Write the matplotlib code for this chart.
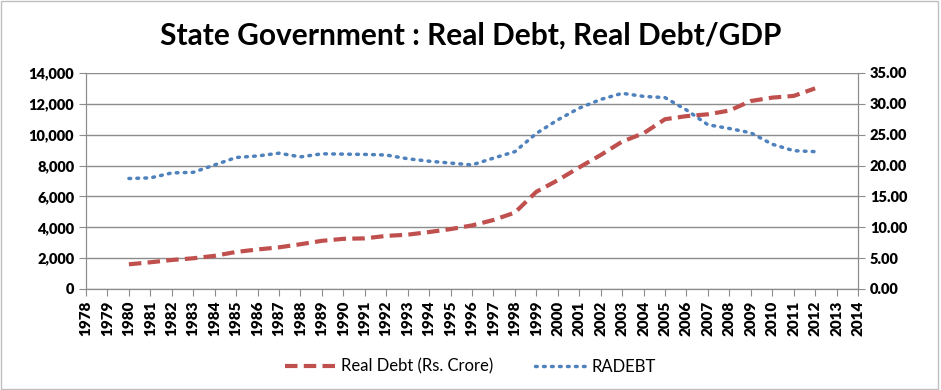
import numpy as np
import matplotlib
matplotlib.use("Agg")
import matplotlib.pyplot as plt
from matplotlib.patches import Rectangle

# datos
years = list(range(1978, 2015))
data_years = list(range(1980, 2013))
real_debt = [1600, 1730, 1880, 1990, 2150, 2400, 2560, 2700, 2900, 3120,
             3250, 3280, 3440, 3520, 3690, 3880, 4120, 4470, 4950, 6300,
             7050, 7880, 8680, 9550, 10090, 11000, 11200, 11320, 11560, 12180,
             12400, 12510, 13000]
radebt = [17.9, 18.0, 18.8, 18.9, 20.1, 21.3, 21.55, 22.0, 21.4, 21.9,
          21.85, 21.8, 21.7, 21.1, 20.7, 20.4, 20.1, 21.2, 22.25, 25.2,
          27.4, 29.3, 30.7, 31.7, 31.2, 31.0, 29.0, 26.6, 26.0, 25.3,
          23.45, 22.4, 22.25]

plt.rcParams['font.family'] = ['Lato', 'DejaVu Sans']

fig = plt.figure(figsize=(9.41, 3.90), dpi=100)
ax = fig.add_axes([0.0914, 0.259, 0.8204, 0.554])
ax2 = ax.twinx()

x_all = np.arange(len(years))
x_data = np.array([years.index(y) for y in data_years])

l1, = ax.plot(x_data, real_debt, color='#C0504D', lw=3, ls=(0, (3.0, 1.5)),
              label='Real Debt (Rs. Crore)')
l2, = ax2.plot(x_data, radebt, color='#4F81BD', lw=2.5, ls=(0, (0.5, 1.8)),
               dash_capstyle='round', label='RADEBT')

ax.set_xlim(0, len(years) - 1)
ax.set_ylim(0, 14000)
ax2.set_ylim(0, 35)
ax.set_yticks(np.arange(0, 14001, 2000))
ax.set_yticklabels([f"{v:,}" for v in range(0, 14001, 2000)])
ax2.set_yticks(np.arange(0, 35.1, 5))
ax2.set_yticklabels([f"{v:.2f}" for v in np.arange(0, 35.1, 5)])
ax.set_xticks(x_all)
ax.set_xticklabels([str(y) for y in years], rotation=90)

ax.grid(axis='y', color='#8c8c8c', lw=1)
ax.set_axisbelow(True)
for a in (ax, ax2):
    a.spines['top'].set_visible(False)
    for s in ('left', 'right', 'bottom'):
        a.spines[s].set_color('#8c8c8c')
    a.tick_params(colors='#8c8c8c', length=5, labelcolor='black')
ax.tick_params(axis='y', labelsize=10.5)
ax.tick_params(axis='x', labelsize=11)
ax2.tick_params(axis='y', labelsize=10.5)
for lab in ax.get_xticklabels() + ax.get_yticklabels() + ax2.get_yticklabels():
    lab.set_fontweight('heavy')

fig.suptitle("State Government : Real Debt, Real Debt/GDP", y=0.945,
             fontsize=21.5, fontweight='bold')

fig.legend(handles=[l1, l2], loc='center', bbox_to_anchor=(0.5, 0.06),
           ncol=2, frameon=False, fontsize=12, handlelength=3.0,
           columnspacing=2.5, handletextpad=0.4)

fig.patches.append(Rectangle((0.001, 0.002), 0.996, 0.995, transform=fig.transFigure,
                             fill=False, edgecolor='#bfbfbf', lw=1))

plt.savefig("out.png", dpi=100)
